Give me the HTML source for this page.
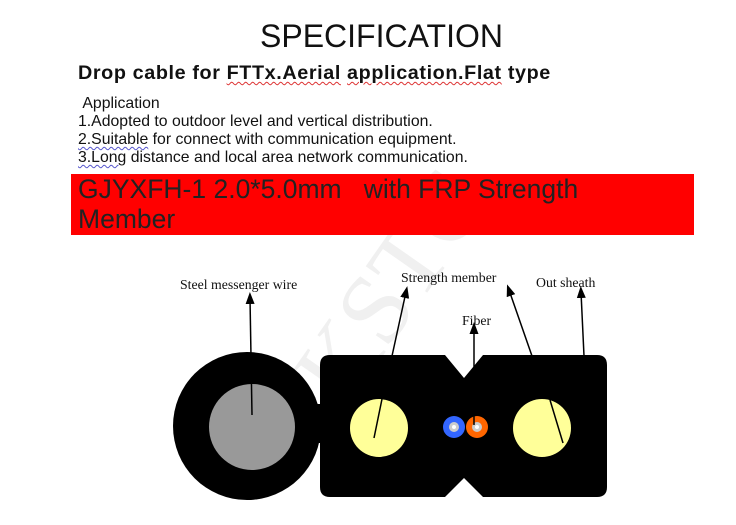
<!DOCTYPE html>
<html><head><style>
body{margin:0;width:736px;height:525px;background:#fff;position:relative;overflow:hidden;font-family:"Liberation Sans",Arial,sans-serif}
.a{position:absolute;white-space:nowrap}
u{text-decoration:underline wavy #d33;text-decoration-thickness:1px;text-underline-offset:2px}
u.b{text-decoration-color:#55c}
</style></head><body>
<svg class="a" style="left:0;top:0" width="736" height="525">
<text x="0" y="0" font-size="100" fill="#f0f0f0" font-family="Liberation Serif" transform="translate(345,410) rotate(-55)">KSTC</text>
</svg>
<div class="a" style="left:260px;top:18px;font-size:32px;color:#111">SPECIFICATION</div>
<div class="a" style="left:78px;top:62px;font-size:19.8px;letter-spacing:0.6px;font-weight:bold;color:#111">Drop cable for <u>FTTx.Aerial</u> <u>application.Flat</u> type</div>
<div class="a" style="left:78px;top:95px;font-size:15.8px;line-height:18px;color:#111">&nbsp;Application<br>1.Adopted to outdoor level and vertical distribution.<br><u class="b">2.Suitable</u> for connect with communication equipment.<br><u class="b">3.Long</u> distance and local area network communication.</div>
<div class="a" style="left:71px;top:174px;width:623px;height:61px;background:#f00"></div>
<div class="a" style="left:78px;top:174px;font-size:26.5px;line-height:30px;color:#222">GJYXFH-1 2.0*5.0mm &nbsp;&nbsp;with FRP Strength<br>Member</div>
<svg class="a" style="left:0;top:0" width="736" height="525">
<defs><marker id="m" markerWidth="8" markerHeight="8" refX="4" refY="4" orient="auto"><path d="M0,1 L8,4 L0,7z" fill="#000"/></marker></defs>
<circle cx="247" cy="426" r="74" fill="#000"/>
<circle cx="252" cy="427" r="43" fill="#999"/>
<rect x="305" y="404" width="20" height="39" fill="#000"/>
<path d="M330,355 H445 L464,378 L483,355 H597 Q607,355 607,365 V487 Q607,497 597,497 H483 L464,478 L445,497 H330 Q320,497 320,487 V365 Q320,355 330,355Z" fill="#000"/>
<circle cx="379" cy="428" r="29" fill="#ffff99"/>
<circle cx="542" cy="428" r="29" fill="#ffff99"/>
<circle cx="454" cy="427" r="11" fill="#3366ff"/>
<circle cx="454" cy="427" r="5" fill="#ccc"/><circle cx="454" cy="427" r="2" fill="#fff"/>
<circle cx="477" cy="427" r="11" fill="#ff6600"/>
<circle cx="477" cy="427" r="5" fill="#ccc"/><circle cx="477" cy="427" r="2" fill="#fff"/>
<g stroke="#000" stroke-width="1.5" fill="none">
<line x1="374" y1="438" x2="382" y2="399"/>
<line x1="563" y1="443" x2="550" y2="400"/>
<line x1="252" y1="415" x2="250" y2="298" marker-end="url(#m)"/>
<line x1="392" y1="356" x2="406" y2="292" marker-end="url(#m)"/>
<line x1="474" y1="425" x2="474" y2="328" marker-end="url(#m)"/>
<line x1="532" y1="356" x2="509" y2="290" marker-end="url(#m)"/>
<line x1="584" y1="356" x2="581" y2="292" marker-end="url(#m)"/>
</g>
<g font-family="Liberation Serif" font-size="13.8" fill="#111">
<text x="180" y="289">Steel messenger wire</text>
<text x="401" y="282">Strength member</text>
<text x="462" y="325">Fiber</text>
<text x="536" y="287">Out sheath</text>
</g>
</svg>
</body></html>
